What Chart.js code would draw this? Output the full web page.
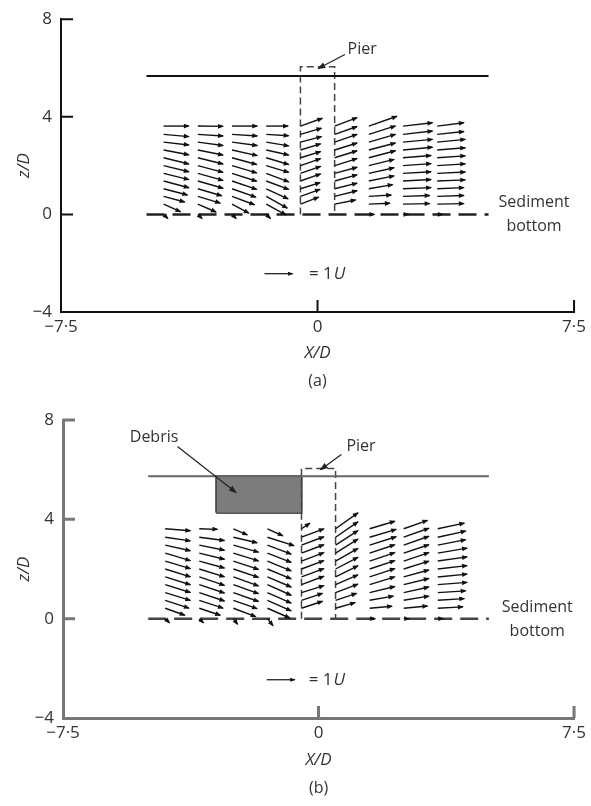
<!DOCTYPE html>
<html lang="en">
<head>
<meta charset="UTF-8">
<title>Velocity vectors around a pier</title>
<script src="https://cdn.jsdelivr.net/npm/chart.js@4.4.1/dist/chart.umd.min.js"></script>
<style>
  body { margin: 0; background: #fff; }
  #wrap { position: relative; width: 591px; height: 806px; }
  canvas { position: absolute; left: 0; }
  #chartA { top: 0; }
  #chartB { top: 400px; }
</style>
</head>
<body>
<div id="wrap">
  <canvas id="chartA" width="591" height="400"></canvas>
  <canvas id="chartB" width="591" height="406"></canvas>
</div>
<script>
// axes
const xTicks = [-7.5, 0, 7.5];
const zTicks = [-4, 0, 4, 8];

// measurement grid (X/D of each column, z/D of each row)
const colX = [-4.5, -3.5, -2.5, -1.5, -0.5, 0.5, 1.5, 2.5, 3.5];
const rowZ = [0, 0.42, 0.74, 1.05, 1.37, 1.68, 2.0, 2.32, 2.64, 2.96, 3.28, 3.62];

// (a) no debris: horizontal / vertical velocity in U, one list per column, bottom row first
const uA = [
  [0.15, 0.6, 0.75, 0.85, 0.9, 0.9, 0.9, 0.9, 0.9, 0.9, 0.9, 0.9],
  [0.15, 0.65, 0.8, 0.85, 0.9, 0.9, 0.9, 0.9, 0.9, 0.9, 0.9, 0.9],
  [0.15, 0.6, 0.8, 0.85, 0.88, 0.88, 0.88, 0.88, 0.9, 0.9, 0.9, 0.9],
  [0.15, 0.7, 0.75, 0.78, 0.8, 0.8, 0.8, 0.8, 0.8, 0.8, 0.8, 0.78],
  [null, 0.65, 0.7, 0.7, 0.72, 0.72, 0.72, 0.72, 0.72, 0.75, 0.75, 0.78],
  [null, 0.75, 0.8, 0.8, 0.8, 0.8, 0.8, 0.8, 0.8, 0.8, 0.8, 0.8],
  [0.2, 0.75, 0.8, 0.85, 0.9, 0.9, 0.9, 0.95, 0.95, 0.95, 0.95, 1.0],
  [0.2, 0.95, 0.95, 1.0, 1.0, 1.0, 1.0, 1.0, 1.05, 1.05, 1.05, 1.05],
  [0.2, 0.95, 0.95, 0.95, 1.0, 1.0, 1.0, 1.0, 1.0, 1.0, 0.95, 0.95]
];
const wA = [
  [-0.15, -0.27, -0.2, -0.22, -0.24, -0.22, -0.22, -0.22, -0.17, -0.1, -0.08, 0],
  [-0.15, -0.28, -0.24, -0.25, -0.26, -0.25, -0.24, -0.22, -0.18, -0.12, -0.06, -0.01],
  [-0.15, -0.32, -0.3, -0.3, -0.3, -0.28, -0.26, -0.24, -0.2, -0.12, -0.06, 0],
  [-0.15, -0.38, -0.42, -0.36, -0.3, -0.3, -0.24, -0.24, -0.18, -0.13, -0.05, 0],
  [null, 0.25, 0.25, 0.22, 0.25, 0.25, 0.25, 0.22, 0.22, 0.2, 0.22, 0.28],
  [null, 0.15, 0.2, 0.2, 0.22, 0.22, 0.25, 0.25, 0.25, 0.28, 0.28, 0.3],
  [0, 0.03, 0.05, 0.15, 0.18, 0.2, 0.22, 0.25, 0.25, 0.28, 0.3, 0.35],
  [0, 0.02, 0.03, 0.04, 0.05, 0.06, 0.07, 0.08, 0.1, 0.1, 0.12, 0.12],
  [0, 0.02, 0.03, 0.04, 0.04, 0.05, 0.06, 0.07, 0.08, 0.1, 0.1, 0.12]
];

// (b) with debris
const uB = [
  [0.15, 0.7, 0.85, 0.9, 0.9, 0.9, 0.9, 0.9, 0.9, 0.9, 0.9, 0.9],
  [0.15, 0.75, 0.85, 0.9, 0.9, 0.9, 0.9, 0.9, 0.9, 0.9, 0.9, 0.65],
  [0.15, 0.8, 0.85, 0.9, 0.9, 0.9, 0.9, 0.9, 0.9, 0.9, 0.85, 0.5],
  [0.2, 0.8, 0.85, 0.85, 0.85, 0.85, 0.85, 0.85, 0.85, 0.85, 0.95, 0.55],
  [null, 0.75, 0.75, 0.8, 0.8, 0.8, 0.8, 0.8, 0.8, 0.8, 0.8, 0.3],
  [null, 0.7, 0.75, 0.8, 0.8, 0.8, 0.8, 0.8, 0.8, 0.8, 0.8, 0.8],
  [0.2, 0.8, 0.85, 0.9, 0.9, 0.9, 0.9, 0.9, 0.9, 0.95, 0.95, 0.9],
  [0.2, 0.85, 0.9, 0.9, 0.9, 0.9, 0.9, 0.9, 0.9, 0.9, 0.9, 0.85],
  [0.2, 0.9, 0.95, 1.0, 1.05, 1.05, 1.05, 1.05, 1.05, 1.0, 1.0, 0.95]
];
const wB = [
  [-0.15, -0.25, -0.28, -0.28, -0.28, -0.28, -0.28, -0.27, -0.27, -0.2, -0.13, -0.07],
  [-0.15, -0.25, -0.28, -0.3, -0.3, -0.3, -0.28, -0.25, -0.22, -0.18, -0.12, -0.02],
  [-0.2, -0.3, -0.3, -0.32, -0.32, -0.32, -0.3, -0.3, -0.28, -0.25, -0.2, -0.22],
  [-0.25, -0.35, -0.38, -0.38, -0.38, -0.36, -0.35, -0.35, -0.33, -0.32, -0.3, -0.25],
  [null, 0.25, 0.25, 0.25, 0.3, 0.3, 0.3, 0.3, 0.3, 0.3, 0.3, 0.2],
  [null, 0.2, 0.25, 0.3, 0.35, 0.4, 0.42, 0.45, 0.5, 0.52, 0.55, 0.57],
  [0, 0.07, 0.15, 0.22, 0.28, 0.3, 0.3, 0.3, 0.3, 0.3, 0.28, 0.27],
  [0, 0.08, 0.15, 0.2, 0.22, 0.25, 0.28, 0.3, 0.3, 0.32, 0.32, 0.3],
  [0, 0.05, 0.06, 0.06, 0.08, 0.1, 0.12, 0.15, 0.18, 0.2, 0.22, 0.2]
];

const unitU = 0.82;            // length of the 1U reference arrow, in X/D
const surfaceX = [-5, 5];
const surfaceZ = [5.67, 5.73]; // (a), (b)
const bedX = [-5, 5];
const pierX = [-0.5, 0.5];
const pierTop = 6.05;
const debrisX = [-3, -0.5];
const debrisZ = [4.27, 5.73];

const FONT = "'Open Sans', 'Noto Sans', sans-serif";
Chart.defaults.font.family = FONT;
Chart.defaults.color = '#333';

function fmt(v) {
  return String(v).replace('-', '\u2212').replace('.', '\u00b7');
}

function drawArrow(ctx, x0, y0, x1, y1, hl, hw) {
  ctx.beginPath();
  ctx.moveTo(x0, y0);
  ctx.lineTo(x1, y1);
  ctx.stroke();
  const a = Math.atan2(y1 - y0, x1 - x0);
  ctx.beginPath();
  ctx.moveTo(x1 + Math.cos(a), y1 + Math.sin(a));
  ctx.lineTo(x1 - Math.cos(a) * hl - Math.sin(a) * hw, y1 - Math.sin(a) * hl + Math.cos(a) * hw);
  ctx.lineTo(x1 - Math.cos(a) * hl + Math.sin(a) * hw, y1 - Math.sin(a) * hl - Math.cos(a) * hw);
  ctx.closePath();
  ctx.fill();
}

function makePanel(id, p) {
  const debris = p.debris;
  const axisCol = p.axisColor;
  const datasets = [
    { data: surfaceX.map(x => ({ x, y: p.surface })), showLine: true, borderColor: p.surfaceColor, borderWidth: 2, pointRadius: 0 },
    { data: bedX.map(x => ({ x, y: 0 })), showLine: true, borderColor: p.bedColor, borderWidth: 2.5, borderDash: [18, 8], pointRadius: 0 },
    { data: [{ x: pierX[0], y: 0 }, { x: pierX[0], y: pierTop }, { x: pierX[1], y: pierTop }, { x: pierX[1], y: 0 }],
      showLine: true, borderColor: '#444', borderWidth: 1.5, borderDash: [7, 4], pointRadius: 0 }
  ];
  if (debris) {
    datasets.push({ data: debrisX.map(x => ({ x, y: debrisZ[1] })), showLine: true, borderWidth: 0,
      backgroundColor: '#7c7c7c', fill: { value: debrisZ[0] }, pointRadius: 0 });
    datasets.push({ data: [{ x: debrisX[0], y: debrisZ[0] }, { x: debrisX[0], y: debrisZ[1] }, { x: debrisX[1], y: debrisZ[1] },
      { x: debrisX[1], y: debrisZ[0] }, { x: debrisX[0], y: debrisZ[0] }], showLine: true, borderColor: '#222', borderWidth: 2, pointRadius: 0 });
  }

  const overlay = {
    id: 'overlay',
    afterDatasetsDraw(chart) {
      const ctx = chart.ctx;
      const xs = chart.scales.x, ys = chart.scales.y;
      const X = v => xs.getPixelForValue(v), Z = v => ys.getPixelForValue(v);
      const k = X(unitU) - X(0);
      ctx.save();
      ctx.strokeStyle = '#111';
      ctx.fillStyle = '#111';
      ctx.lineWidth = 1.4;
      // velocity vectors
      colX.forEach((cx, i) => {
        rowZ.forEach((rz, j) => {
          const u = p.u[i][j], w = p.w[i][j];
          if (u == null) return;
          const x0 = X(cx), y0 = Z(rz);
          drawArrow(ctx, x0, y0, x0 + u * k, y0 - w * k, 5, 2.4);
        });
      });
      // reference arrow
      ctx.lineWidth = 1.2;
      const kx = X(p.key[0]), ky = Z(p.key[1]);
      drawArrow(ctx, kx, ky, kx + k, ky, 4.5, 2);
      ctx.font = '17px ' + FONT;
      ctx.fillStyle = '#333';
      ctx.textBaseline = 'middle';
      ctx.textAlign = 'left';
      const tx = X(p.keyText);
      ctx.fillText('= 1', tx, ky);
      const wq = ctx.measureText('= 1').width;
      ctx.font = 'italic 17px ' + FONT;
      ctx.fillText('U', tx + wq + 1, ky);

      // labels
      ctx.font = '16px ' + FONT;
      ctx.textAlign = 'center';
      ctx.fillText('Sediment', X(p.sed[0]), Z(p.sed[1]));
      ctx.fillText('bottom', X(p.sed[0]), Z(p.sed[1]) + 24);
      ctx.textAlign = 'left';
      ctx.fillText('Pier', X(p.pierLabel[0]), Z(p.pierLabel[1]));
      ctx.fillStyle = '#222';
      ctx.strokeStyle = '#222';
      ctx.lineWidth = 1.2;
      drawArrow(ctx, X(p.pierLead[0]), Z(p.pierLead[1]), X(p.pierLead[2]), Z(p.pierLead[3]), 7, 3);
      if (debris) {
        ctx.fillStyle = '#333';
        ctx.fillText('Debris', X(p.debrisLabel[0]), Z(p.debrisLabel[1]));
        ctx.fillStyle = '#222';
        drawArrow(ctx, X(p.debrisLead[0]), Z(p.debrisLead[1]), X(p.debrisLead[2]), Z(p.debrisLead[3]), 7, 3);
      }

      // inward tick marks
      ctx.strokeStyle = axisCol;
      ctx.lineWidth = p.axisWidth;
      ctx.beginPath();
      zTicks.forEach(z => {
        if (z === ys.min) return;
        ctx.moveTo(xs.left, Z(z));
        ctx.lineTo(xs.left + 12, Z(z));
      });
      xTicks.forEach(x => {
        if (x === xs.min) return;
        ctx.moveTo(X(x), ys.bottom);
        ctx.lineTo(X(x), ys.bottom - 12);
      });
      ctx.stroke();

      // panel letter
      ctx.font = '16px ' + FONT;
      ctx.fillStyle = '#333';
      ctx.textAlign = 'center';
      ctx.fillText(p.letter, X(0), ys.bottom + p.letterOffset);
      ctx.restore();
    }
  };

  return new Chart(document.getElementById(id), {
    type: 'scatter',
    data: { datasets },
    options: {
      responsive: false,
      animation: false,
      layout: { padding: { top: p.pad.top, right: p.pad.right, left: 0, bottom: 0 } },
      plugins: { legend: { display: false }, tooltip: { enabled: false } },
      scales: {
        x: {
          type: 'linear', min: -7.5, max: 7.5,
          afterBuildTicks: s => { s.ticks = xTicks.map(v => ({ value: v })); },
          afterFit: s => { s.height = p.xHeight; },
          grid: { display: false, drawTicks: false },
          border: { display: true, color: axisCol, width: p.axisWidth },
          ticks: { autoSkip: false, maxRotation: 0, padding: 5, font: { size: 17 }, color: '#333', callback: v => fmt(v) },
          title: { display: true, text: 'X/D', font: { size: 17, style: 'italic' }, color: '#333', padding: { top: 0, bottom: p.xTitlePad } }
        },
        y: {
          type: 'linear', min: -4, max: 8,
          afterBuildTicks: s => { s.ticks = zTicks.map(v => ({ value: v })); },
          afterFit: s => { s.width = p.yWidth; },
          grid: { display: false, drawTicks: false },
          border: { display: true, color: axisCol, width: p.axisWidth },
          ticks: { autoSkip: false, padding: 9, font: { size: 17 }, color: '#333', callback: v => fmt(v) },
          title: { display: true, text: 'z/D', font: { size: 17, style: 'italic' }, color: '#333', padding: { top: 14, bottom: 0 } }
        }
      }
    },
    plugins: [overlay]
  });
}

makePanel('chartA', {
  u: uA, w: wA, surface: surfaceZ[0], surfaceColor: '#111', bedColor: '#222', debris: false,
  axisColor: '#111', axisWidth: 2,
  pad: { top: 16, right: 16 }, yWidth: 61, xHeight: 88, xTitlePad: 37,
  key: [-1.55, -2.43], keyText: -0.25,
  sed: [6.33, 0.49], pierLabel: [0.88, 6.77], pierLead: [0.8, 6.55, 0.02, 5.98],
  letter: '(a)', letterOffset: 69
});

makePanel('chartB', {
  u: uB, w: wB, surface: surfaceZ[1], surfaceColor: '#666', bedColor: '#444', debris: true,
  axisColor: '#777', axisWidth: 3,
  pad: { top: 20, right: 14 }, yWidth: 63, xHeight: 88, xTitlePad: 36,
  key: [-1.52, -2.46], keyText: -0.29,
  sed: [6.42, 0.44], pierLabel: [0.82, 6.93], pierLead: [0.67, 6.61, 0.06, 6.0],
  debrisLabel: [-5.54, 7.3], debrisLead: [-4.14, 6.93, -2.42, 5.08],
  letter: '(b)', letterOffset: 70
});
</script>
</body>
</html>
